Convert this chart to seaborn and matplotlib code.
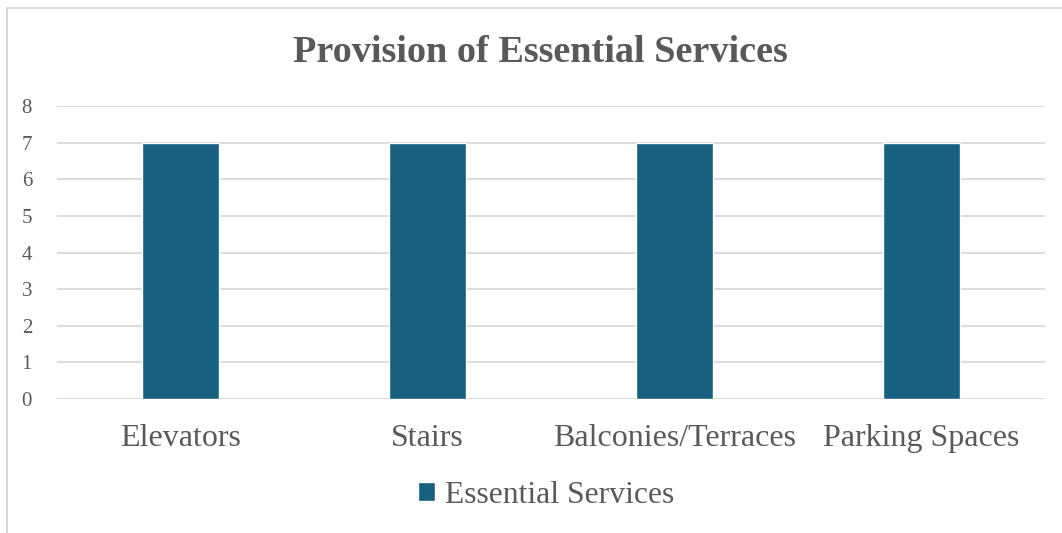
import matplotlib
matplotlib.use('Agg')
import matplotlib.pyplot as plt
import seaborn as sns
import pandas as pd
from matplotlib.patches import Rectangle

categories = ['Elevators', 'Stairs', 'Balconies/Terraces', 'Parking Spaces']
values = [7, 7, 7, 7]
series_name = 'Essential Services'

df = pd.DataFrame({'service': categories, 'count': values})

sns.set_style('white')
plt.rcParams['font.family'] = ['Liberation Serif', 'DejaVu Serif']

bar_color = '#17607F'
text_color = '#595959'
grid_color = '#D9D9D9'

fig = plt.figure(figsize=(10.62, 5.33), dpi=100)
ax = fig.add_axes([0.0537, 0.2514, 0.9303, 0.5496])

sns.barplot(data=df, x='service', y='count', color=bar_color, width=0.31,
            saturation=1, ax=ax, zorder=3, label=series_name)
handles, labels = ax.get_legend_handles_labels()
if ax.get_legend() is not None:
    ax.get_legend().remove()

ax.set_ylim(0, 8)
ax.set_yticks(range(0, 9))
ax.set_xlim(-0.5, len(categories) - 0.5)
ax.grid(axis='y', color=grid_color, linewidth=1.3, zorder=0)
for s in ax.spines.values():
    s.set_visible(False)
ax.tick_params(axis='y', labelsize=15, colors=text_color, length=0, pad=18)
ax.tick_params(axis='x', labelsize=23, colors=text_color, length=0, pad=18)
ax.set_xlabel('')
ax.set_ylabel('')

fig.text(0.5085, 0.902, 'Provision of Essential Services', ha='center', va='center',
         fontsize=27.5, fontweight='bold', color=text_color)

leg = fig.legend(handles, labels, loc='center', bbox_to_anchor=(0.514, 0.071),
                 frameon=False, fontsize=22.8, handlelength=0.55, handleheight=0.55,
                 handletextpad=0.3)
for t in leg.get_texts():
    t.set_color(text_color)

# chart border (cropped on the right and bottom)
fig.patches.append(Rectangle((7 / 1062, -0.1), 1.2, 1 - 8 / 533 + 0.1,
                             transform=fig.transFigure, fill=False,
                             edgecolor=grid_color, linewidth=1.5))

fig.savefig('out.png', dpi=100)
